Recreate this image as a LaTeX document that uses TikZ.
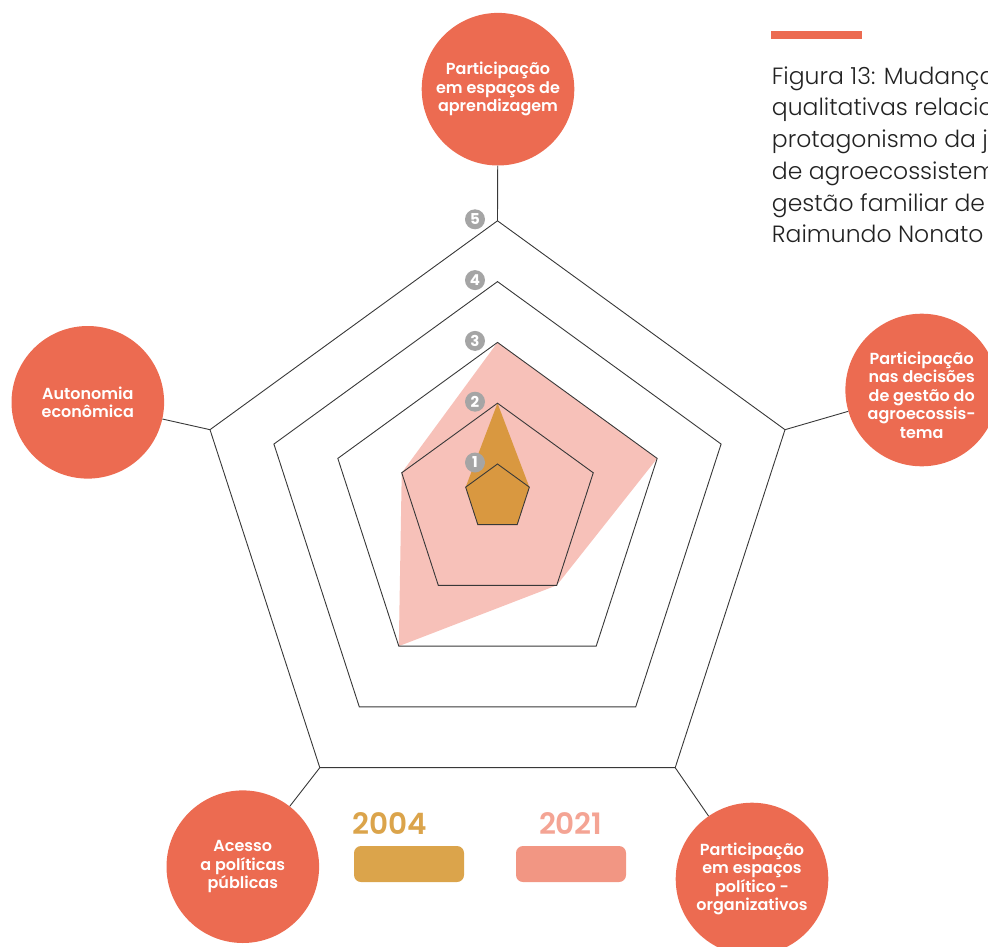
\documentclass[tikz,border=0pt]{standalone}
\usepackage{fontspec}
\IfFontExistsTF{Poppins Light}{\newfontfamily\capfont{Poppins Light}}{\newfontfamily\capfont{Poppins}}
\IfFontExistsTF{Poppins SemiBold}{\newfontfamily\labfont{Poppins SemiBold}}{\newfontfamily\labfontx{Poppins}\def\labfont{\labfontx\bfseries}}
\IfFontExistsTF{Poppins Bold}{\newfontfamily\badgefont{Poppins Bold}}{\def\badgefont{\labfont}}
\definecolor{circ}{HTML}{EC6B51}
\definecolor{pinkfill}{HTML}{F7C1B9}
\definecolor{orfill}{HTML}{D99840}
\definecolor{gridc}{HTML}{383838}
\definecolor{badgegray}{HTML}{A5A5A5}
\definecolor{cA}{HTML}{DBA44B}
\definecolor{cB}{HTML}{F29683}
\definecolor{cBt}{HTML}{F4A494}
\definecolor{captext}{HTML}{222222}
\begin{document}
\begin{tikzpicture}[x=1pt,y=-1pt,
  bubble/.style={circle,fill=circ,minimum size=152.6pt,inner sep=0pt,text=white,align=center,font=\labfont\fontsize{16}{18.5}\selectfont},
  badge/.style={circle,fill=badgegray,minimum size=20pt,inner sep=0pt,text=white,font=\badgefont\fontsize{15}{15}\selectfont},
  gridline/.style={draw=gridc,line width=0.9pt,line join=miter},
  axisline/.style={draw=gridc,line width=0.9pt},
  legtext/.style={font=\labfont\fontsize{29.5}{29.5}\selectfont,inner sep=0pt},
  legbox/.style={rounded corners=7pt,minimum width=110pt,minimum height=36pt,inner sep=0pt},
  captionline/.style={anchor=base west,inner sep=0pt,text=captext,font=\capfont\fontsize{23.5}{31.7}\selectfont}]
\useasboundingbox (0,0) rectangle (988,947);
% pentagon vertices
\foreach \n in {1,...,5}{
  \pgfmathsetmacro\rr{67.2*\n-33.7}
  \pgfmathsetmacro\tt{464-60.8*(\n-1)}
  \pgfmathsetmacro\cy{\tt+\rr}
  \foreach \k/\a in {0/90,1/18,2/-54,3/-126,4/162}{
    \coordinate (P\n-\k) at ({497.5+\rr*cos(\a)},{\cy-\rr*sin(\a)});
  }
}
% data polygons
\fill[pinkfill] (P3-0) -- (P3-1) -- (P2-2) -- (P3-3) -- (P2-4) -- cycle;
\fill[orfill] (P2-0) -- (P1-1) -- (P1-2) -- (P1-3) -- (P1-4) -- cycle;
% grid
\foreach \n in {1,...,5}{
  \draw[gridline] (P\n-0) -- (P\n-1) -- (P\n-2) -- (P\n-3) -- (P\n-4) -- cycle;
}
% badges
\foreach \n in {1,...,5}{
  \pgfmathsetmacro\ty{464-60.8*(\n-1)-1.5}
  \node[badge] (b\n) at (475,\ty) {\n};
}
% circles
\node[bubble] (top) at (498,89.2) {Participação\\em espaços de\\aprendizagem};
\node[bubble] (left) at (87.8,402.3) {Autonomia\\econômica};
\node[bubble] (right) at (921.7,390) {};
\node[text=white,align=center,font=\labfont\fontsize{16}{18.5}\selectfont] (righttext) at (921.7,395) {Participação\\nas decisões\\de gestão do\\agroecossis-\\tema};
\node[bubble] (bl) at (242.8,866.7) {Acesso\\a políticas\\públicas};
\node[bubble] (br) at (752,879) {Participação\\em espaços\\político -\\organizativos};
% axes
\draw[axisline] (P5-0) -- (top);
\draw[axisline] (P5-1) -- (right);
\draw[axisline] (P5-2) -- (br);
\draw[axisline] (P5-3) -- (bl);
\draw[axisline] (P5-4) -- (left);
% legend
\node[legtext,text=cA] (t04) at (389.7,824) {2004};
\node[legbox,fill=cA] (r04) at (409,864) {};
\node[legtext,text=cBt] (t21) at (570.8,824) {2021};
\node[legbox,fill=cB] (r21) at (571,864) {};
% caption
\node[fill=circ,minimum width=91.3pt,minimum height=8pt,inner sep=0pt] (bar) at (816.6,35) {};
\node[captionline] (c1) at (771.7,84.3) {Figura 13: Mudança};
\node[captionline] (c2) at (771.7,116) {qualitativas relacio};
\node[captionline] (c3) at (771.7,147.7) {protagonismo da ju};
\node[captionline] (c4) at (771.7,179.4) {de agroecossistem};
\node[captionline] (c5) at (771.7,211.1) {gestão familiar de};
\node[captionline] (c6) at (771.7,242.7) {Raimundo Nonato};
\end{tikzpicture}
\end{document}
